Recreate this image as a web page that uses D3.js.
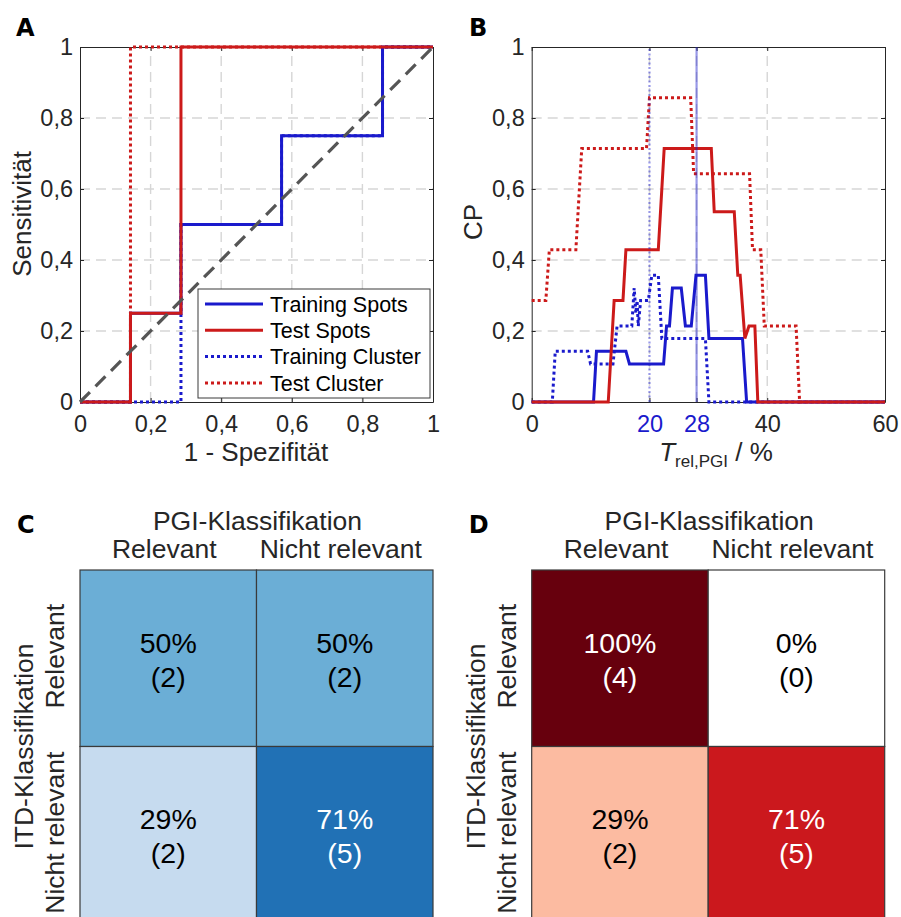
<!DOCTYPE html>
<html>
<head>
<meta charset="utf-8">
<script src="https://cdn.jsdelivr.net/npm/d3@7"></script>
<style>
  html, body { margin: 0; padding: 0; background: #fff; }
  svg { display: block; font-family: "Liberation Sans", Arial, Helvetica, sans-serif; }
</style>
</head>
<body>
<svg id="fig" width="901" height="917"></svg>
<script>
// ---------- Panel A: ROC curves ----------
const rocTicks = [0, 0.2, 0.4, 0.6, 0.8, 1];
const rocTickLabels = ["0", "0,2", "0,4", "0,6", "0,8", "1"];

const rocTrainSpotsX = [0, 0.143, 0.143, 0.286, 0.286, 0.571, 0.571, 0.857, 0.857, 1];
const rocTrainSpotsY = [0, 0, 0.25, 0.25, 0.5, 0.5, 0.75, 0.75, 1, 1];
const rocTestSpotsX = [0, 0.143, 0.143, 0.286, 0.286, 1];
const rocTestSpotsY = [0, 0, 0.25, 0.25, 1, 1];
const rocTrainClusterX = [0, 0.286, 0.286, 0.571, 0.571, 0.857, 0.857, 1];
const rocTrainClusterY = [0, 0, 0.5, 0.5, 0.75, 0.75, 1, 1];
const rocTestClusterX = [0, 0.143, 0.143, 1];
const rocTestClusterY = [0, 0, 1, 1];

const legendNames = ["Training Spots", "Test Spots", "Training Cluster", "Test Cluster"];

// ---------- Panel B: CP over relative PGI threshold ----------
const cpXTicks = [0, 20, 28, 40, 60];
const cpXTickLabels = ["0", "20", "28", "40", "60"];
const cpYTicks = [0, 0.2, 0.4, 0.6, 0.8, 1];
const cpYTickLabels = ["0", "0,2", "0,4", "0,6", "0,8", "1"];
const cpMarkers = [20, 28];   // selected thresholds: cluster (dotted), spots (solid)

const cpTrainSpotsT = [0, 10.5, 11, 16, 16.6, 22.4, 22.9, 23.4, 23.9, 25.4, 26.1, 27.1, 27.9, 29.5, 30.1, 35.8, 36.5, 60];
const cpTrainSpotsV = [0, 0, 0.143, 0.143, 0.107, 0.107, 0.214, 0.214, 0.321, 0.321, 0.214, 0.214, 0.357, 0.357, 0.179, 0.179, 0, 0];
const cpTestSpotsT = [0, 13, 14, 15.5, 16, 21.5, 22.5, 30.5, 31, 34.4, 35, 35.4, 36.2, 36.9, 37.9, 38.4, 60];
const cpTestSpotsV = [0, 0, 0.286, 0.286, 0.429, 0.429, 0.714, 0.714, 0.536, 0.536, 0.357, 0.357, 0.179, 0.214, 0.214, 0, 0];
const cpTrainClusterT = [0, 3.5, 4, 9.5, 10, 13.8, 14.5, 17, 17.4, 17.7, 17.9, 18.1, 18.5, 19.8, 20.4, 21.5, 22.1, 29.5, 30.1, 60];
const cpTrainClusterV = [0, 0, 0.143, 0.143, 0.107, 0.107, 0.214, 0.214, 0.321, 0.25, 0.286, 0.214, 0.286, 0.286, 0.357, 0.357, 0.179, 0.179, 0, 0];
const cpTestClusterT = [0, 2.4, 3, 7.5, 8.5, 19.5, 20, 27, 27.5, 37, 37.5, 38.9, 39.5, 44.9, 45.5, 60];
const cpTestClusterV = [0.286, 0.286, 0.429, 0.429, 0.714, 0.714, 0.857, 0.857, 0.643, 0.643, 0.429, 0.429, 0.214, 0.214, 0, 0];

// ---------- Panels C/D: confusion matrices ----------
const classLabels = ["Relevant", "Nicht relevant"];
const confTrainPct = [[50, 50], [29, 71]];
const confTrainCount = [[2, 2], [2, 5]];
const confTestPct = [[100, 0], [29, 71]];
const confTestCount = [[4, 0], [2, 5]];

// ---------- styling ----------
const BLUE = "#1a1acc", RED = "#cc1a1a";
const AX = "#262626";
const GRID = "#d6d6d6";
const DOT = "3,3";

const svg = d3.select("#fig");

const series = (xs, ys) => xs.map((x, i) => [x, ys[i]]);

function drawFrame(g, x, y, xt, yt, xLabels, yLabels, gridX, gridY) {
  const [x0, x1] = x.range();
  const [y0, y1] = y.range();
  // grid
  g.append("g").selectAll("line").data(gridY).join("line")
    .attr("x1", x0).attr("x2", x1).attr("y1", d => y(d)).attr("y2", d => y(d))
    .attr("stroke", GRID).attr("stroke-width", 1.4).attr("stroke-dasharray", "10,6");
  g.append("g").selectAll("line").data(gridX).join("line")
    .attr("y1", y0).attr("y2", y1).attr("x1", d => x(d)).attr("x2", d => x(d))
    .attr("stroke", GRID).attr("stroke-width", 1.4).attr("stroke-dasharray", "10,6");

  const style = sel => {
    sel.select(".domain").attr("stroke", AX).attr("stroke-width", 1);
    sel.selectAll(".tick line").attr("stroke", AX).attr("stroke-width", 1);
    sel.selectAll(".tick text").attr("fill", AX).style("font-size", "23.5px")
      .style("font-family", '"Liberation Sans", Arial, sans-serif');
  };
  const bottom = g.append("g").attr("transform", `translate(0,${y0})`)
    .call(d3.axisBottom(x).tickValues(xt).tickFormat((d, i) => xLabels[i])
      .tickSize(-4).tickSizeOuter(0).tickPadding(13));
  style(bottom);
  const left = g.append("g").attr("transform", `translate(${x0},0)`)
    .call(d3.axisLeft(y).tickValues(yt).tickFormat((d, i) => yLabels[i])
      .tickSize(-4).tickSizeOuter(0).tickPadding(7));
  style(left);
  const top = g.append("g").attr("transform", `translate(0,${y1})`)
    .call(d3.axisTop(x).tickValues(xt).tickFormat("").tickSize(-4).tickSizeOuter(0));
  style(top);
  const right = g.append("g").attr("transform", `translate(${x1},0)`)
    .call(d3.axisRight(y).tickValues(yt).tickFormat("").tickSize(-4).tickSizeOuter(0));
  style(right);
  return { bottom, left };
}

function panelLetter(ch, x, y) {
  svg.append("text").attr("x", x).attr("y", y).text(ch)
    .attr("font-family", '"DejaVu Sans", sans-serif').attr("font-weight", "bold")
    .attr("font-size", 24).attr("fill", "#000");
}

const line = (x, y) => d3.line().x(d => x(d[0])).y(d => y(d[1]));

// ================= Panel A =================
{
  const x = d3.scaleLinear().domain([0, 1]).range([80, 433]);
  const y = d3.scaleLinear().domain([0, 1]).range([402, 47]);
  const g = svg.append("g");
  drawFrame(g, x, y, rocTicks, rocTicks, rocTickLabels, rocTickLabels,
    rocTicks.slice(1, -1), rocTicks.slice(1, -1));

  const ln = line(x, y);
  const curves = [
    { d: series(rocTrainClusterX, rocTrainClusterY), c: BLUE, dash: DOT },
    { d: series(rocTestClusterX, rocTestClusterY), c: RED, dash: DOT },
    { d: series(rocTrainSpotsX, rocTrainSpotsY), c: BLUE, dash: null },
    { d: series(rocTestSpotsX, rocTestSpotsY), c: RED, dash: null }
  ];
  g.selectAll("path.curve").data(curves).join("path").attr("class", "curve")
    .attr("d", d => ln(d.d)).attr("fill", "none").attr("stroke", d => d.c)
    .attr("stroke-width", 3).attr("stroke-dasharray", d => d.dash)
    .attr("stroke-linejoin", "miter");

  // chance diagonal
  g.append("path").attr("d", ln([[0, 0], [1, 1]])).attr("fill", "none")
    .attr("stroke", "#555").attr("stroke-width", 3.2).attr("stroke-dasharray", "14,8");

  // legend
  const lg = g.append("g");
  lg.append("rect").attr("x", 198).attr("y", 289).attr("width", 232).attr("height", 109)
    .attr("fill", "#fff").attr("stroke", "#3a3a3a").attr("stroke-width", 1);
  const legendStyle = [
    { c: BLUE, dash: null }, { c: RED, dash: null }, { c: BLUE, dash: DOT }, { c: RED, dash: DOT }
  ];
  legendNames.forEach((name, i) => {
    const cy = 304 + i * 26.3;
    lg.append("line").attr("x1", 205).attr("x2", 263).attr("y1", cy).attr("y2", cy)
      .attr("stroke", legendStyle[i].c).attr("stroke-width", 3)
      .attr("stroke-dasharray", legendStyle[i].dash);
    lg.append("text").attr("x", 270).attr("y", cy).attr("dy", "0.36em").text(name)
      .attr("font-size", 21.5).attr("fill", "#000");
  });

  g.append("text").attr("x", 256).attr("y", 461).attr("text-anchor", "middle")
    .attr("font-size", 26).attr("fill", AX).text("1 - Spezifität");
  g.append("text").attr("transform", "translate(31,214) rotate(-90)").attr("text-anchor", "middle")
    .attr("font-size", 26).attr("fill", AX).text("Sensitivität");
  panelLetter("A", 16, 36);
}

// ================= Panel B =================
{
  const x = d3.scaleLinear().domain([0, 60]).range([531.7, 885]);
  const y = d3.scaleLinear().domain([0, 1]).range([402, 47]);
  const g = svg.append("g");
  const fr = drawFrame(g, x, y, cpXTicks, cpYTicks, cpXTickLabels, cpYTickLabels,
    cpXTicks.slice(1, -1), cpYTicks.slice(1, -1));
  fr.bottom.selectAll(".tick text").attr("fill", d => cpMarkers.includes(d) ? BLUE : AX);

  const ln = line(x, y);
  const curves = [
    { d: series(cpTrainClusterT, cpTrainClusterV), c: BLUE, dash: DOT },
    { d: series(cpTestClusterT, cpTestClusterV), c: RED, dash: DOT },
    { d: series(cpTrainSpotsT, cpTrainSpotsV), c: BLUE, dash: null },
    { d: series(cpTestSpotsT, cpTestSpotsV), c: RED, dash: null }
  ];
  g.selectAll("path.curve").data(curves).join("path").attr("class", "curve")
    .attr("d", d => ln(d.d)).attr("fill", "none").attr("stroke", d => d.c)
    .attr("stroke-width", 3).attr("stroke-dasharray", d => d.dash)
    .attr("stroke-linejoin", "miter");

  // selected thresholds
  g.selectAll("line.marker").data(cpMarkers).join("line").attr("class", "marker")
    .attr("x1", d => x(d)).attr("x2", d => x(d)).attr("y1", 402).attr("y2", 47)
    .attr("stroke", BLUE).attr("stroke-opacity", 0.45).attr("stroke-width", 2.2)
    .attr("stroke-dasharray", (d, i) => i === 0 ? "2,2.5" : null);

  const xl = g.append("text").attr("x", 716).attr("y", 461).attr("text-anchor", "middle")
    .attr("font-size", 26).attr("fill", AX);
  xl.append("tspan").attr("font-style", "italic").text("T");
  xl.append("tspan").attr("font-size", 17).attr("dy", 6).text("rel,PGI");
  xl.append("tspan").attr("dy", -6).text(" / %");
  g.append("text").attr("transform", "translate(482,222) rotate(-90)").attr("text-anchor", "middle")
    .attr("font-size", 26).attr("fill", AX).text("CP");
  panelLetter("B", 469, 36);
}

// ================= Panels C & D =================
function heatmap(x0, pct, cnt, scheme, letter) {
  const size = 353;
  const top = 570;
  const band = d3.scaleBand().domain(classLabels).range([0, size]);
  const colors = [...scheme];
  colors[0] = "#ffffff";
  const color = d3.scaleQuantize().domain([0, 100]).range(colors);
  const g = svg.append("g").attr("transform", `translate(${x0},${top})`);

  const cells = [];
  classLabels.forEach((r, i) => classLabels.forEach((c, j) =>
    cells.push({ r, c, p: pct[i][j], n: cnt[i][j] })));

  g.selectAll("rect").data(cells).join("rect")
    .attr("x", d => band(d.c)).attr("y", d => band(d.r))
    .attr("width", band.bandwidth()).attr("height", band.bandwidth())
    .attr("fill", d => color(d.p)).attr("stroke", "#3a3a3a").attr("stroke-width", 1.2);

  const t = g.selectAll("g.lab").data(cells).join("g").attr("class", "lab")
    .attr("transform", d => `translate(${band(d.c) + band.bandwidth() / 2},${band(d.r) + band.bandwidth() / 2})`);
  t.append("text").attr("text-anchor", "middle").attr("y", -5.5).attr("font-size", 28.5)
    .attr("fill", d => d.p > 60 ? "#fff" : "#000").text(d => `${d.p}%`);
  t.append("text").attr("text-anchor", "middle").attr("y", 28.5).attr("font-size", 28.5)
    .attr("fill", d => d.p > 60 ? "#fff" : "#000").text(d => `(${d.n})`);

  const FS = 26.5;
  // column header
  g.append("text").attr("x", size / 2 + 1).attr("y", -40).attr("text-anchor", "middle")
    .attr("font-size", FS).attr("fill", AX).text("PGI-Klassifikation");
  g.selectAll("text.col").data(classLabels).join("text").attr("class", "col")
    .attr("x", d => band(d) + band.bandwidth() / 2 - 4).attr("y", -12).attr("text-anchor", "middle")
    .attr("font-size", FS).attr("fill", AX).text(d => d);
  // row header
  g.selectAll("text.row").data(classLabels).join("text").attr("class", "row")
    .attr("transform", d => `translate(-16,${band(d) + band.bandwidth() / 2 - 2}) rotate(-90)`)
    .attr("text-anchor", "middle").attr("font-size", FS).attr("fill", AX).text(d => d);
  g.append("text").attr("transform", `translate(-47,${size / 2}) rotate(-90)`)
    .attr("text-anchor", "middle").attr("font-size", FS).attr("fill", AX).text("ITD-Klassifikation");

  panelLetter(letter, x0 - 63, top - 37);
}

heatmap(80, confTrainPct, confTrainCount, d3.schemeBlues[9], "C");
heatmap(531.7, confTestPct, confTestCount, d3.schemeReds[9], "D");
</script>
</body>
</html>
